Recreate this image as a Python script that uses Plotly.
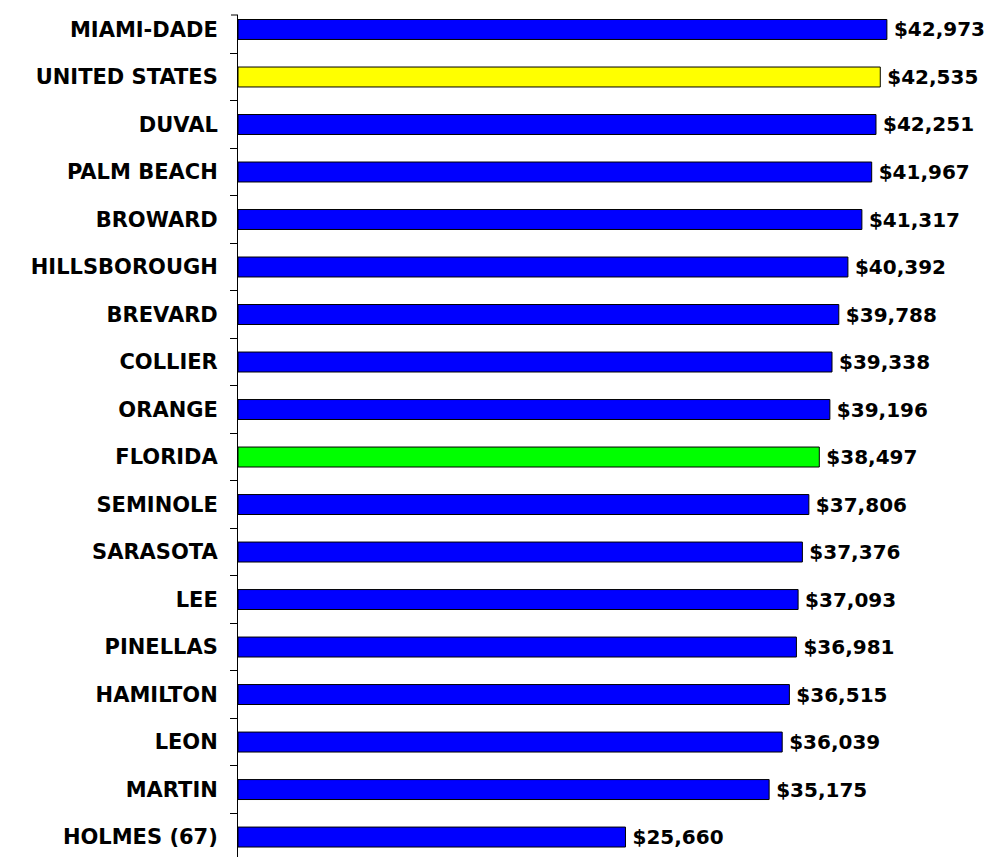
import plotly.graph_objects as go

categories = ["MIAMI-DADE", "UNITED STATES", "DUVAL", "PALM BEACH", "BROWARD",
              "HILLSBOROUGH", "BREVARD", "COLLIER", "ORANGE", "FLORIDA",
              "SEMINOLE", "SARASOTA", "LEE", "PINELLAS", "HAMILTON", "LEON",
              "MARTIN", "HOLMES (67)"]
values = [42973, 42535, 42251, 41967, 41317, 40392, 39788, 39338, 39196, 38497,
          37806, 37376, 37093, 36981, 36515, 36039, 35175, 25660]
highlight = {"UNITED STATES": "#FFFF00", "FLORIDA": "#00FF00"}
bar_colors = [highlight.get(c, "#0000FF") for c in categories]

FONT = "DejaVu Sans"

fig = go.Figure(go.Bar(
    x=values,
    y=categories,
    orientation="h",
    marker=dict(color=bar_colors, line=dict(color="black", width=1)),
    texttemplate="\u2009$%{x:,}",
    textposition="outside",
    constraintext="none",
    textfont=dict(family=FONT, size=20, color="black", weight="bold"),
    cliponaxis=False,
    width=0.42,
))

fig.update_layout(
    width=985, height=849,
    margin=dict(l=230, r=0, t=7, b=0, autoexpand=False),
    paper_bgcolor="white", plot_bgcolor="white",
    showlegend=False,
    xaxis=dict(visible=False, range=[0, 50000]),
    yaxis=dict(
        type="category",
        categoryorder="array", categoryarray=categories,
        range=[17.42, -0.305],
        showline=True, linecolor="black", linewidth=1,
        ticks="outside", tickson="boundaries", ticklen=7, tickcolor="black",
        showgrid=False, automargin=False,
        tickfont=dict(family=FONT, size=21, color="black", weight="bold"),
        ticklabelstandoff=15,
    ),
    shapes=[dict(type="line", xref="paper", yref="paper",
                 x0=-7/755, x1=0, y0=1, y1=1,
                 line=dict(color="black", width=1))],
)

fig.write_html("out.html")
